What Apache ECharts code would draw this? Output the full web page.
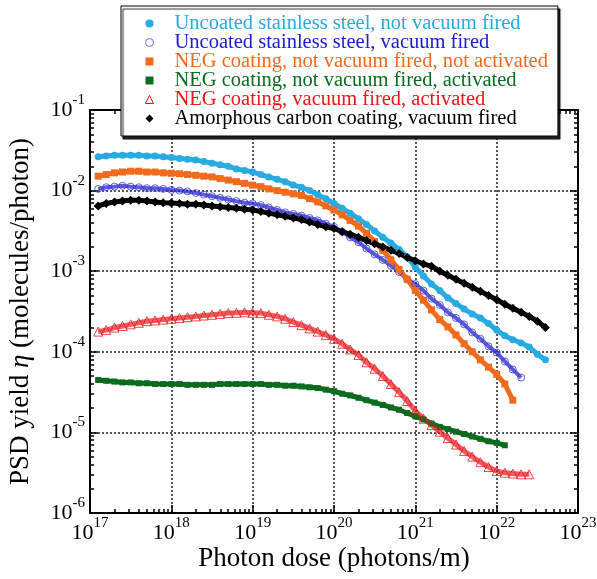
<!DOCTYPE html>
<html>
<head>
<meta charset="utf-8">
<script src="https://cdn.jsdelivr.net/npm/echarts@6/dist/echarts.min.js"></script>
<style>
  html, body { margin: 0; padding: 0; background: #fff; }
  #myChart { width: 597px; height: 579px; }
</style>
</head>
<body>
<!-- PSD yield vs photon dose, log-log -->
<div id="myChart"></div>
<script>
// photon dose (photons/m), shared by all curves
const dose = [
  1.26e17, 1.58e17, 2.00e17, 2.51e17, 3.16e17, 3.98e17, 5.01e17, 6.31e17, 7.94e17,
  1.00e18, 1.26e18, 1.58e18, 2.00e18, 2.51e18, 3.16e18, 3.98e18, 5.01e18, 6.31e18, 7.94e18,
  1.00e19, 1.26e19, 1.58e19, 2.00e19, 2.51e19, 3.16e19, 3.98e19, 5.01e19, 6.31e19, 7.94e19,
  1.00e20, 1.26e20, 1.58e20, 2.00e20, 2.51e20, 3.16e20, 3.98e20, 5.01e20, 6.31e20, 7.94e20,
  1.00e21, 1.26e21, 1.58e21, 2.00e21, 2.51e21, 3.16e21, 3.98e21, 5.01e21, 6.31e21, 7.94e21,
  1.00e22, 1.26e22, 1.58e22, 2.00e22, 2.51e22, 3.16e22, 3.98e22, 5.01e22
]

// PSD yield (molecules/photon), one array per sample
const uncoatedNotFired = [
  2.63e-2, 2.69e-2, 2.75e-2, 2.75e-2, 2.75e-2, 2.75e-2, 2.69e-2, 2.69e-2, 2.63e-2,
  2.57e-2, 2.51e-2, 2.45e-2, 2.40e-2, 2.29e-2, 2.19e-2, 2.09e-2, 2.00e-2, 1.86e-2, 1.78e-2,
  1.70e-2, 1.58e-2, 1.48e-2, 1.38e-2, 1.29e-2, 1.17e-2, 1.10e-2, 1.00e-2, 8.91e-3, 7.94e-3,
  6.92e-3, 6.03e-3, 5.25e-3, 4.47e-3, 3.80e-3, 3.16e-3, 2.63e-3, 2.24e-3, 1.86e-3, 1.51e-3,
  1.12e-3, 8.71e-4, 6.92e-4, 5.75e-4, 4.68e-4, 3.98e-4, 3.39e-4, 2.95e-4, 2.63e-4, 2.24e-4,
  1.86e-4, 1.58e-4, 1.41e-4, 1.29e-4, 1.15e-4, 9.33e-5, 7.94e-5, null
]
const uncoatedFired = [
  1.05e-2, 1.10e-2, 1.12e-2, 1.15e-2, 1.12e-2, 1.10e-2, 1.07e-2, 1.07e-2, 1.05e-2,
  1.02e-2, 1.00e-2, 9.77e-3, 9.33e-3, 8.91e-3, 8.51e-3, 8.13e-3, 7.76e-3, 7.41e-3, 7.08e-3,
  6.92e-3, 6.61e-3, 6.17e-3, 5.75e-3, 5.37e-3, 5.13e-3, 4.90e-3, 4.57e-3, 4.27e-3, 3.89e-3,
  3.55e-3, 3.09e-3, 2.63e-3, 2.29e-3, 1.91e-3, 1.62e-3, 1.38e-3, 1.17e-3, 9.77e-4, 7.94e-4,
  6.92e-4, 5.75e-4, 4.57e-4, 3.80e-4, 3.09e-4, 2.63e-4, 2.19e-4, 1.74e-4, 1.45e-4, 1.17e-4,
  9.77e-5, 7.59e-5, 6.03e-5, 4.79e-5, null, null, null, null
]
const negNotFiredNotAct = [
  1.51e-2, 1.58e-2, 1.66e-2, 1.70e-2, 1.74e-2, 1.74e-2, 1.70e-2, 1.70e-2, 1.66e-2,
  1.64e-2, 1.62e-2, 1.58e-2, 1.55e-2, 1.51e-2, 1.48e-2, 1.41e-2, 1.35e-2, 1.29e-2, 1.23e-2,
  1.17e-2, 1.12e-2, 1.05e-2, 1.00e-2, 9.55e-3, 9.12e-3, 8.71e-3, 7.94e-3, 7.24e-3, 6.46e-3,
  5.75e-3, 5.01e-3, 4.27e-3, 3.63e-3, 2.95e-3, 2.34e-3, 1.82e-3, 1.38e-3, 1.05e-3, 7.94e-4,
  5.75e-4, 4.37e-4, 3.31e-4, 2.51e-4, 2.04e-4, 1.62e-4, 1.26e-4, 1.00e-4, 7.94e-5, 6.46e-5,
  5.25e-5, 3.98e-5, 2.51e-5, null, null, null, null, null
]
const negNotFiredAct = [
  4.47e-5, 4.37e-5, 4.27e-5, 4.17e-5, 4.17e-5, 4.07e-5, 4.07e-5, 3.98e-5, 3.98e-5,
  3.98e-5, 3.98e-5, 3.89e-5, 3.89e-5, 3.89e-5, 3.89e-5, 3.98e-5, 3.98e-5, 3.98e-5, 3.98e-5,
  3.98e-5, 3.98e-5, 3.89e-5, 3.89e-5, 3.80e-5, 3.80e-5, 3.72e-5, 3.63e-5, 3.55e-5, 3.39e-5,
  3.24e-5, 3.02e-5, 2.88e-5, 2.69e-5, 2.51e-5, 2.34e-5, 2.19e-5, 2.04e-5, 1.91e-5, 1.74e-5,
  1.58e-5, 1.45e-5, 1.29e-5, 1.17e-5, 1.10e-5, 1.02e-5, 9.55e-6, 8.91e-6, 8.32e-6, 7.76e-6,
  7.41e-6, 6.92e-6, null, null, null, null, null, null
]
const negFiredAct = [
  1.78e-4, 1.86e-4, 2.00e-4, 2.09e-4, 2.19e-4, 2.29e-4, 2.40e-4, 2.45e-4, 2.51e-4,
  2.57e-4, 2.63e-4, 2.69e-4, 2.75e-4, 2.82e-4, 2.88e-4, 2.95e-4, 3.02e-4, 3.05e-4, 3.09e-4,
  3.05e-4, 3.02e-4, 2.88e-4, 2.75e-4, 2.57e-4, 2.34e-4, 2.14e-4, 1.95e-4, 1.78e-4, 1.62e-4,
  1.45e-4, 1.26e-4, 1.07e-4, 9.12e-5, 7.41e-5, 6.17e-5, 5.01e-5, 3.98e-5, 3.16e-5, 2.45e-5,
  1.86e-5, 1.48e-5, 1.23e-5, 1.02e-5, 8.51e-6, 7.08e-6, 5.89e-6, 5.01e-6, 4.27e-6, 3.72e-6,
  3.31e-6, 3.16e-6, 3.09e-6, 3.02e-6, 3.02e-6, null, null, null
]
const carbonFired = [
  6.46e-3, 6.92e-3, 7.24e-3, 7.41e-3, 7.59e-3, 7.59e-3, 7.41e-3, 7.24e-3, 7.08e-3,
  7.00e-3, 6.92e-3, 6.76e-3, 6.76e-3, 6.61e-3, 6.46e-3, 6.31e-3, 6.17e-3, 6.03e-3, 5.89e-3,
  5.75e-3, 5.50e-3, 5.25e-3, 5.01e-3, 4.79e-3, 4.57e-3, 4.37e-3, 4.07e-3, 3.80e-3, 3.55e-3,
  3.39e-3, 3.09e-3, 2.88e-3, 2.63e-3, 2.40e-3, 2.19e-3, 2.00e-3, 1.82e-3, 1.66e-3, 1.48e-3,
  1.35e-3, 1.23e-3, 1.15e-3, 1.00e-3, 8.91e-4, 7.94e-4, 7.08e-4, 6.31e-4, 5.62e-4, 5.01e-4,
  4.42e-4, 3.89e-4, 3.47e-4, 3.09e-4, 2.75e-4, 2.40e-4, 2.00e-4, null
]

const seriesNames = [
  'Uncoated stainless steel, not vacuum fired',
  'Uncoated stainless steel, vacuum fired',
  'NEG coating, not vacuum fired, not activated',
  'NEG coating, not vacuum fired, activated',
  'NEG coating, vacuum fired, activated',
  'Amorphous carbon coating, vacuum fired'
]

const FONT = '"Liberation Serif", "Times New Roman", serif'

// minor ticks 2..9 inside each decade
function minorTicks(from, to) {
  const out = []
  for (let k = from; k < to; k++) {
    for (let m = 2; m <= 9; m++) out.push(m * Math.pow(10, k))
  }
  return out
}

function powLabel(v) {
  return '{b|10}{e|' + Math.round(Math.log10(v)) + '}'
}

// superscript: lifted with bottom padding
const labelRich = {
  b: { fontFamily: FONT, fontSize: 22, color: '#000' },
  e: { fontFamily: FONT, fontSize: 15, color: '#000', padding: [0, 0, 20, 0] }
}

const frame = { onZero: false, lineStyle: { color: '#000', width: 2 } }
const tickStyle = { color: '#000', width: 1.5 }
const gridLine = { show: true, lineStyle: { color: '#222', type: [2, 2], width: 1.5 } }

const xBase = { type: 'log', logBase: 10, min: 1e17, max: 1e23, gridIndex: 0 }
const yBase = { type: 'log', logBase: 10, min: 1e-6, max: 1e-1, gridIndex: 0 }

function pair(ys) {
  return dose.map((d, i) => [d, ys[i]])
}

const myChart = echarts.init(document.getElementById('myChart'))
myChart.setOption({
  animation: false,
  backgroundColor: '#fff',
  grid: { left: 90, right: 19, top: 110, bottom: 66, containLabel: false, outerBoundsMode: 'none' },
  legend: {
    left: 121,
    top: 6,
    orient: 'vertical',
    padding: [7, 10, 7, 24],
    itemGap: -2,
    itemWidth: 8,
    itemHeight: 8,
    selectedMode: false,
    backgroundColor: '#fff',
    borderColor: '#000',
    borderWidth: 1,
    shadowColor: 'rgba(0,0,0,0.85)',
    shadowBlur: 1,
    shadowOffsetX: 2,
    shadowOffsetY: 3,
    textStyle: { fontFamily: FONT, fontSize: 20.5, lineHeight: 18, padding: [0, 0, 0, 16] },
    data: [
      { name: seriesNames[0], icon: 'circle', itemStyle: { color: '#29abe2' }, textStyle: { color: '#29abe2' } },
      { name: seriesNames[1], icon: 'circle',
        itemStyle: { color: '#fff', borderColor: '#6a6ae0', borderWidth: 1 }, textStyle: { color: '#1a1ad2' } },
      { name: seriesNames[2], icon: 'rect', itemStyle: { color: '#f26b1d' }, textStyle: { color: '#f26b1d' } },
      { name: seriesNames[3], icon: 'rect', itemStyle: { color: '#0d6b1f' }, textStyle: { color: '#0d6b1f' } },
      { name: seriesNames[4], icon: 'triangle',
        itemStyle: { color: '#fff', borderColor: '#e8161b', borderWidth: 1 }, textStyle: { color: '#e8161b' } },
      { name: seriesNames[5], icon: 'diamond', itemStyle: { color: '#000' }, textStyle: { color: '#000' } }
    ]
  },
  xAxis: [
    {
      ...xBase,
      position: 'bottom',
      axisLine: frame,
      axisTick: { inside: true, length: 8, lineStyle: tickStyle },
      axisLabel: { margin: 3, formatter: powLabel, rich: labelRich },
      splitLine: gridLine,
      name: 'Photon dose (photons/m)',
      nameLocation: 'middle',
      nameGap: 32,
      nameMoveOverlap: false,
      nameTextStyle: { fontFamily: FONT, fontSize: 27, color: '#000' }
    },
    { ...xBase, position: 'bottom', axisLine: { show: false, onZero: false },
      axisTick: { inside: true, length: 4, lineStyle: tickStyle, customValues: minorTicks(17, 23) },
      axisLabel: { show: false }, splitLine: { show: false } },
    { ...xBase, position: 'top', axisLine: frame,
      axisTick: { inside: true, length: 8, lineStyle: tickStyle },
      axisLabel: { show: false }, splitLine: { show: false } },
    { ...xBase, position: 'top', axisLine: { show: false, onZero: false },
      axisTick: { inside: true, length: 4, lineStyle: tickStyle, customValues: minorTicks(17, 23) },
      axisLabel: { show: false }, splitLine: { show: false } }
  ],
  yAxis: [
    {
      ...yBase,
      position: 'left',
      axisLine: frame,
      axisTick: { inside: true, length: 8, lineStyle: tickStyle },
      axisLabel: { margin: 5, formatter: powLabel, rich: labelRich },
      splitLine: gridLine,
      name: 'PSD yield {i|η} (molecules/photon)',
      nameLocation: 'middle',
      nameGap: 56,
      nameMoveOverlap: false,
      nameTextStyle: {
        fontFamily: FONT, fontSize: 27, color: '#000',
        rich: { i: { fontFamily: FONT, fontSize: 27, fontStyle: 'italic', color: '#000' } }
      }
    },
    { ...yBase, position: 'left', axisLine: { show: false, onZero: false },
      axisTick: { inside: true, length: 4, lineStyle: tickStyle, customValues: minorTicks(-6, -1) },
      axisLabel: { show: false }, splitLine: { show: false } },
    { ...yBase, position: 'right', axisLine: frame,
      axisTick: { inside: true, length: 8, lineStyle: tickStyle },
      axisLabel: { show: false }, splitLine: { show: false } },
    { ...yBase, position: 'right', axisLine: { show: false, onZero: false },
      axisTick: { inside: true, length: 4, lineStyle: tickStyle, customValues: minorTicks(-6, -1) },
      axisLabel: { show: false }, splitLine: { show: false } }
  ],
  series: [
    {
      name: seriesNames[0], type: 'line', symbol: 'circle', symbolSize: 7,
      itemStyle: { color: '#29abe2' },
      lineStyle: { color: '#29abe2', width: 5 },
      data: pair(uncoatedNotFired)
    },
    {
      name: seriesNames[1], type: 'line', symbol: 'circle', symbolSize: 7,
      itemStyle: { color: 'rgba(0,0,0,0)', borderColor: '#3a3ad8', borderWidth: 0.8 },
      lineStyle: { color: 'rgba(35,35,205,0.75)', width: 4 },
      data: pair(uncoatedFired)
    },
    {
      name: seriesNames[2], type: 'line', symbol: 'rect', symbolSize: 7,
      itemStyle: { color: '#f26b1d' },
      lineStyle: { color: '#f26b1d', width: 5 },
      data: pair(negNotFiredNotAct)
    },
    {
      name: seriesNames[3], type: 'line', symbol: 'rect', symbolSize: 6,
      itemStyle: { color: '#0d6b1f' },
      lineStyle: { color: '#0d6b1f', width: 5 },
      data: pair(negNotFiredAct)
    },
    {
      name: seriesNames[4], type: 'line', symbol: 'triangle', symbolSize: 9,
      itemStyle: { color: 'rgba(0,0,0,0)', borderColor: '#e8161b', borderWidth: 0.8 },
      lineStyle: { color: 'rgba(232,22,27,0.7)', width: 5 },
      data: pair(negFiredAct)
    },
    {
      name: seriesNames[5], type: 'line', symbol: 'diamond', symbolSize: 9,
      itemStyle: { color: '#000' },
      lineStyle: { color: '#000', width: 5 },
      data: pair(carbonFired)
    }
  ]
})
</script>
</body>
</html>
